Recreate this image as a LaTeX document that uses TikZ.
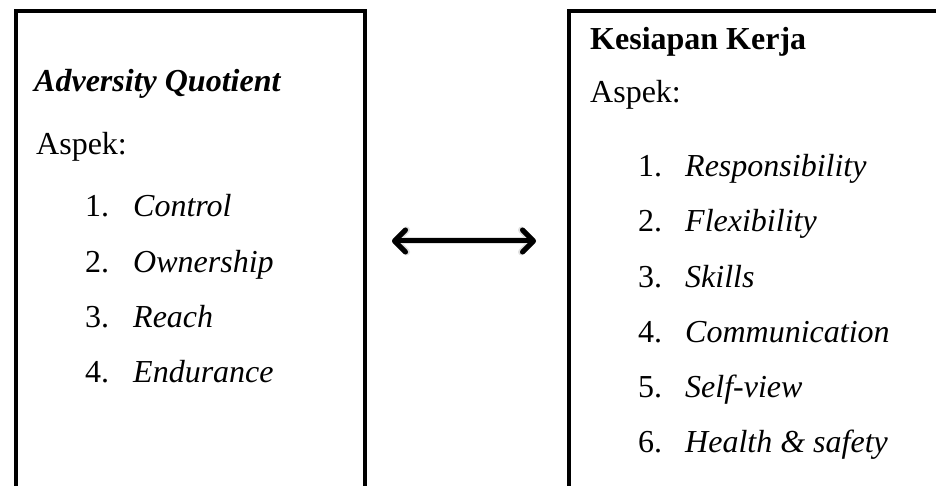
\documentclass[tikz,border=0pt]{standalone}
\usepackage{fontspec}
\setmainfont{Liberation Serif}
\usetikzlibrary{arrows.meta}
\tikzset{
  frame/.style={draw=black, line width=4pt, anchor=north west, inner sep=0pt, fill=none},
  txt/.style={anchor=base west, inner sep=0pt, font=\fontsize{32}{36}\selectfont},
  itm/.style={txt, font=\fontsize{32}{36}\selectfont\itshape},
  dbl/.style={line width=5pt, line cap=round,
    {Straight Barb[length=11pt, width=22pt, line cap=round, line join=round]}-{Straight Barb[length=11pt, width=22pt, line cap=round, line join=round]}},
}
\begin{document}
\begin{tikzpicture}[x=1pt, y=-1pt]
\useasboundingbox (0,0) rectangle (936,486);
\clip (0,0) rectangle (936,486);
\fill[white] (0,0) rectangle (936,486);
% boxes
\node[frame, minimum width=349pt, minimum height=600pt] (left) at (14,9.5) {};
\node[frame, minimum width=420pt, minimum height=600pt] (right) at (567,9.5) {};
% left texts
\node[txt, font=\fontsize{32}{36}\selectfont\bfseries\itshape] (aq) at (34,92) {Adversity Quotient};
\node[txt] (aspL) at (36,155) {Aspek:};
\node[txt] (nL1) at (85,217) {1.};
\node[itm] (iL1) at (133,217) {Control};
\node[txt] (nL2) at (85,272) {2.};
\node[itm] (iL2) at (133,272) {Ownership};
\node[txt] (nL3) at (85,327) {3.};
\node[itm] (iL3) at (133,327) {Reach};
\node[txt] (nL4) at (85,382) {4.};
\node[itm] (iL4) at (133,382) {Endurance};
% right texts
\node[txt, font=\fontsize{32}{36}\selectfont\bfseries] (kk) at (590,50) {Kesiapan Kerja};
\node[txt] (aspR) at (590,103) {Aspek:};
\node[txt] (nR1) at (638,177) {1.};
\node[itm] (iR1) at (685,177) {Responsibility};
\node[txt] (nR2) at (638,232) {2.};
\node[itm] (iR2) at (685,232) {Flexibility};
\node[txt] (nR3) at (638,287) {3.};
\node[itm] (iR3) at (685,287) {Skills};
\node[txt] (nR4) at (638,342) {4.};
\node[itm] (iR4) at (685,342) {Communication};
\node[txt] (nR5) at (638,397) {5.};
\node[itm] (iR5) at (685,397) {Self-view};
\node[txt] (nR6) at (638,452) {6.};
\node[itm] (iR6) at (685,452) {Health \& safety};
% arrow
\coordinate (a1) at (392,241);
\coordinate (a2) at (536,241);
\begin{scope}[shift={(2.5,3)}]
\draw[dbl, draw=black!12, line width=7pt] (a1) -- (a2);
\draw[dbl, draw=black!22] (a1) -- (a2);
\end{scope}
\draw[dbl] (a1) -- (a2);
\end{tikzpicture}
\end{document}
